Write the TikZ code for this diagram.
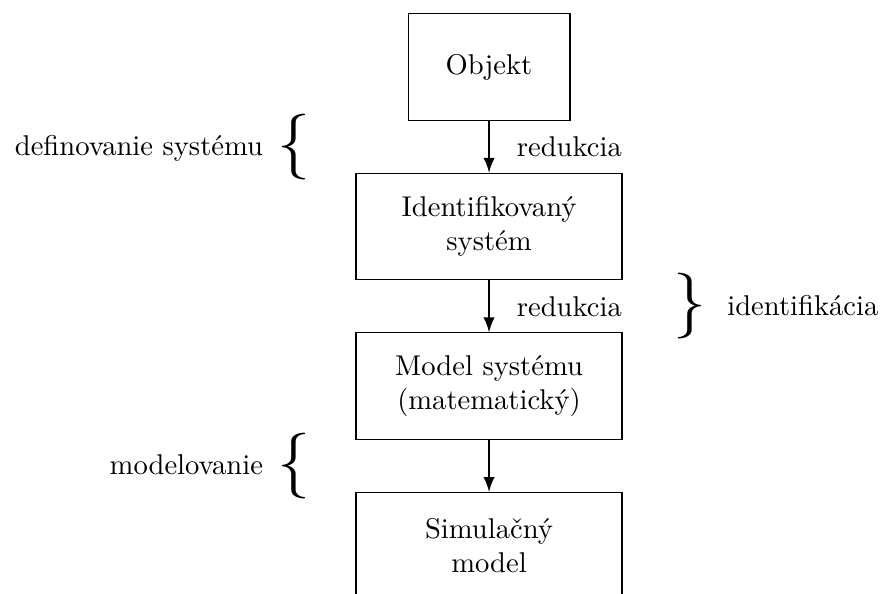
\documentclass[tikz,border=0pt]{standalone}
\usepackage{tikz}
\usetikzlibrary{arrows,positioning}
\tikzset{
    block/.style = {draw, rectangle, thin,
        minimum height=37.2pt,
        minimum width=93pt, align=center},
    smallblock/.style = {block, minimum width=56.6pt},
    arrow/.style = {draw, ->, thick}
}
\newcommand{\lzat}{\raisebox{-2.6pt}{\fontsize{23}{23}\selectfont\{}}
\newcommand{\pzat}{\raisebox{-2.6pt}{\fontsize{23}{23}\selectfont\}}}

\begin{document}
\begin{tikzpicture}[auto, node distance=55.8pt, >=latex]
        \useasboundingbox (-171pt,-184.3pt) rectangle (136.7pt,23.4pt);
        \clip (-171pt,-184.3pt) rectangle (136.7pt,23.4pt);
        \node [smallblock] (obj) {Objekt};
        \node [block, below of=obj] (ident) {Identifikovaný\\systém};
        \node [block, below of=ident] (model) {Model systému\\(matematický)};
        \node [block, below of=model] (sim) {Simulačný\\model};
        % sipky medzi blokmi
        \draw[arrow] (obj) -- coordinate[midway] (m1) node[right=6pt] (red1) {redukcia} (ident);
        \draw[arrow] (ident) -- coordinate[midway] (m2) node[right=6pt] (red2) {redukcia} (model);
        \draw[arrow] (model) -- coordinate[midway] (m3) (sim);
        % zatvorky
        \node [left=59pt of m1] (defsys) {definovanie systému\hspace{5pt}\lzat};
        \node [right=61pt of m2] (identif) {\pzat\hspace{7.3pt}identifikácia};
        \node [left=59pt of m3] (modelov) {modelovanie\hspace{5pt}\lzat};
    \end{tikzpicture}
\end{document}
